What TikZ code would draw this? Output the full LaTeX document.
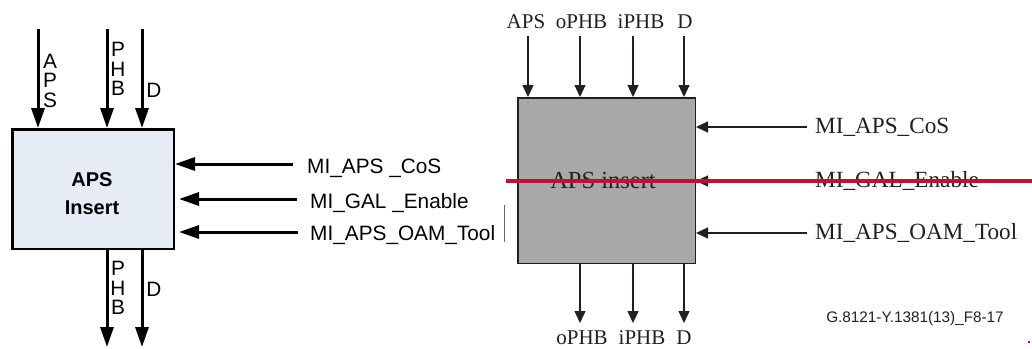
\documentclass[tikz,border=0pt]{standalone}
\usepackage{fontspec}
\setmainfont{Liberation Serif}
\setsansfont{Liberation Sans}
\usetikzlibrary{arrows.meta,positioning}
\definecolor{boxblue}{RGB}{230,236,246}
\definecolor{boxgrey}{RGB}{168,168,168}
\definecolor{inkdark}{RGB}{35,31,32}
\definecolor{strikered}{RGB}{192,16,58}
\tikzset{
	bigarrow/.style={black, line width=3pt, -{Triangle[length=20pt,width=13pt]}},
	thinarrow/.style={inkdark, line width=1.3pt, -{Triangle[length=12pt,width=11pt]}},
	sanslabel/.style={font=\sffamily\fontsize{20.8}{19.5}\selectfont, inner sep=0pt},
	seriflabel/.style={inkdark, font=\fontsize{23.2}{26}\selectfont, inner sep=0pt},
	toplabel/.style={inkdark, font=\fontsize{21}{24}\selectfont, inner sep=0pt, anchor=base}
}

\begin{document}
\begin{tikzpicture}[x=1pt, y=-1pt]
		\useasboundingbox (0,0) rectangle (1032,348);
		% left block
		\node[draw, line width=2.5pt, fill=boxblue, minimum width=161.5pt, minimum height=119.5pt, inner sep=0pt] (insL) at (93,189) {};
		\node[sanslabel, font=\sffamily\bfseries\fontsize{20}{28}\selectfont, align=center] (insLtext) at (92,194) {APS\\Insert};
		\coordinate (apsLin) at (38,29);
		\coordinate (phbLin) at (107,29);
		\coordinate (dLin) at (142,29);
		\coordinate (phbLout) at (107,347);
		\coordinate (dLout) at (142,347);
		\draw[bigarrow] (apsLin) -- (apsLin |- insL.north);
		\draw[bigarrow] (phbLin) -- (phbLin |- insL.north);
		\draw[bigarrow] (dLin) -- (dLin |- insL.north);
		\draw[bigarrow] (phbLout |- insL.south) -- (phbLout);
		\draw[bigarrow] (dLout |- insL.south) -- (dLout);
		\node[sanslabel, align=center] (apsLtext) at (50,80.5) {A\\P\\S};
		\node[sanslabel, align=center] (phbLtext) at (118,69) {P\\H\\B};
		\node[sanslabel] (dLtext) at (154,90.5) {D};
		\node[sanslabel, align=center] (phbLtext2) at (118,288) {P\\H\\B};
		\node[sanslabel] (dLtext2) at (154,289.5) {D};
		\coordinate (cosL) at (293,164);
		\coordinate (galL) at (297,199);
		\coordinate (oamL) at (298,232);
		\draw[bigarrow] (cosL) -- (cosL -| insL.east);
		\draw[bigarrow, shorten >=4pt] (galL) -- (galL -| insL.east);
		\draw[bigarrow, shorten >=4pt] (oamL) -- (oamL -| insL.east);
		\node[sanslabel, anchor=base west] (cosLtext) at (307,173) {MI\_APS \_CoS};
		\node[sanslabel, anchor=base west] (galLtext) at (310,208) {MI\_GAL \_Enable};
		\node[sanslabel, anchor=base west] (oamLtext) at (310,240) {MI\_APS\_OAM\_Tool};
		\draw[black!60, line width=0.8pt] (504,205) -- (504,242);
		% right block
		\node[draw=inkdark, line width=1.5pt, fill=boxgrey, minimum width=177.5pt, minimum height=165.5pt, inner sep=0pt] (insR) at (606.5,180.5) {};
		\node[seriflabel, font=\fontsize{24.5}{26}\selectfont, anchor=base] (insRtext) at (603,188) {APS insert};
		\coordinate (apsRin) at (528,36);
		\coordinate (ophbRin) at (580,36);
		\coordinate (iphbRin) at (633,36);
		\coordinate (dRin) at (684,36);
		\coordinate (ophbRout) at (580,323);
		\coordinate (iphbRout) at (633,323);
		\coordinate (dRout) at (684,323);
		\foreach \p in {apsRin, ophbRin, iphbRin, dRin}
			\draw[thinarrow] (\p) -- (\p |- insR.north);
		\foreach \p in {ophbRout, iphbRout, dRout}
			\draw[thinarrow] (\p |- insR.south) -- (\p);
		\node[toplabel] (apsRtext) at (526,28) {APS};
		\node[toplabel] (ophbRtext) at (581.5,28) {oPHB};
		\node[toplabel] (iphbRtext) at (641,28) {iPHB};
		\node[toplabel] (dRtext) at (685,28) {D};
		\node[toplabel] (ophbRtext2) at (582,344) {oPHB};
		\node[toplabel] (iphbRtext2) at (642,344) {iPHB};
		\node[toplabel] (dRtext2) at (684,344) {D};
		\coordinate (cosR) at (807,127);
		\coordinate (galR) at (807,181);
		\coordinate (oamR) at (807,233);
		\draw[thinarrow] (cosR) -- (cosR -| insR.east);
		\draw[thinarrow] (galR) -- (galR -| insR.east);
		\draw[thinarrow] (oamR) -- (oamR -| insR.east);
		\node[seriflabel, anchor=base west] (cosRtext) at (815,133) {MI\_APS\_CoS};
		\node[seriflabel, anchor=base west] (galRtext) at (815,187) {MI\_GAL\_Enable};
		\node[seriflabel, anchor=base west] (oamRtext) at (815,239) {MI\_APS\_OAM\_Tool};
		\node[inkdark, font=\sffamily\fontsize{15.3}{18}\selectfont, inner sep=0pt, anchor=base] (figid) at (915,322) {G.8121-Y.1381(13)\_F8-17};
		% strike line
		\draw[strikered, line width=3.5pt] (506,181) -- (1032,181);
		\fill[strikered] (1028,341) rectangle (1030,343);
		\end{tikzpicture}
\end{document}
